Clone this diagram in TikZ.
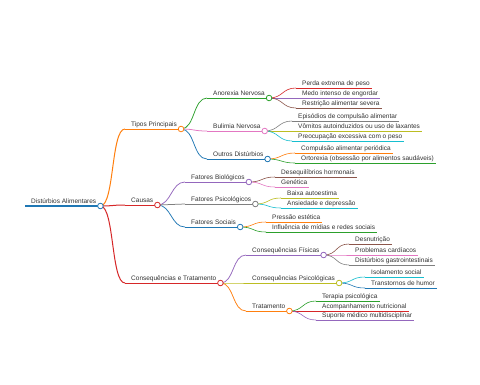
\documentclass[tikz,border=0pt]{standalone}
\usepackage{fontspec}
\setmainfont{Liberation Sans}
\usetikzlibrary{calc}
\definecolor{cBlue}{HTML}{1F77B4}
\definecolor{cOrange}{HTML}{FF7F0E}
\definecolor{cGreen}{HTML}{2CA02C}
\definecolor{cRed}{HTML}{D62728}
\definecolor{cPurple}{HTML}{9467BD}
\definecolor{cBrown}{HTML}{8C564B}
\definecolor{cPink}{HTML}{E377C2}
\definecolor{cGray}{HTML}{7F7F7F}
\definecolor{cOlive}{HTML}{BCBD22}
\definecolor{cCyan}{HTML}{17BECF}
\definecolor{txtgray}{HTML}{333333}
\tikzset{
  lbl/.style={inner sep=0pt, text=txtgray, font=\fontsize{6.5}{7.8}\selectfont},
  dotstyle/.style={fill=white, line width=0.8pt}
}
% name, x, y, color, line width, text
\newcommand\mmnode[6]{%
  \coordinate (#1s) at (#2,#3);
  \node[lbl, anchor=base west] (#1) at (#2+6,#3-2.5) {#6};
  \path (#1s -| #1.base east) ++(4,0) coordinate (#1e);
  \draw[draw=#4, line width=#5] (#1s) -- (#1e);
}
\newcommand\mmleaf[5]{%
  \coordinate (#1s) at (#2,#3);
  \node[lbl, anchor=base west] (#1) at (#2+6,#3-2.5) {#5};
  \path (#1s -| #1.base east) ++(2,0) coordinate (#1e);
  \draw[draw=#4, line width=0.6pt] (#1s) -- (#1e);
}
% parent, child, color, width
\newcommand\mmlink[4]{%
  \draw[draw=#3, line width=#4] (#1e) .. controls +(14,0) and +(-14,0) .. (#2s);
}
\newcommand\mmdot[2]{%
  \draw[draw=#2, dotstyle] (#1e) circle (2.8pt);
}
\begin{document}
\begin{tikzpicture}[x=1pt, y=-1pt]
\useasboundingbox (0,0) rectangle (480,384);
\fill[white] (0,0) rectangle (480,384);
% main nodes
\mmnode{R}{25}{206}{cBlue}{1.6pt}{Distúrbios Alimentares}
\mmnode{T}{125}{129}{cOrange}{1pt}{Tipos Principais}
\mmnode{C}{125}{205}{cRed}{1pt}{Causas}
\mmnode{Q}{125}{283}{cRed}{1pt}{Consequências e Tratamento}
\mmnode{TA}{207}{98}{cGreen}{0.75pt}{Anorexia Nervosa}
\mmnode{TB}{207}{131}{cPink}{0.75pt}{Bulimia Nervosa}
\mmnode{TO}{207}{159}{cBlue}{0.75pt}{Outros Distúrbios}
\mmnode{CB}{185}{182}{cPurple}{0.75pt}{Fatores Biológicos}
\mmnode{CP}{185}{204}{cGray}{0.75pt}{Fatores Psicológicos}
\mmnode{CS}{185}{227}{cBlue}{0.75pt}{Fatores Sociais}
\mmnode{QF}{246}{255}{cPurple}{0.75pt}{Consequências Físicas}
\mmnode{QP}{246}{283}{cOlive}{0.75pt}{Consequências Psicológicas}
\mmnode{QT}{246}{311}{cOrange}{0.75pt}{Tratamento}
% leaves
\mmleaf{TA1}{296}{88}{cRed}{Perda extrema de peso}
\mmleaf{TA2}{296}{98}{cPurple}{Medo intenso de engordar}
\mmleaf{TA3}{296}{108}{cBrown}{Restrição alimentar severa}
\mmleaf{TB1}{292}{121}{cGray}{Episódios de compulsão alimentar}
\mmleaf{TB2}{292}{131}{cOlive}{Vômitos autoinduzidos ou uso de laxantes}
\mmleaf{TB3}{292}{141}{cCyan}{Preocupação excessiva com o peso}
\mmleaf{TO1}{295}{153}{cOrange}{Compulsão alimentar periódica}
\mmleaf{TO2}{295}{163}{cGreen}{Ortorexia (obsessão por alimentos saudáveis)}
\mmleaf{CB1}{275}{177}{cBrown}{Desequilíbrios hormonais}
\mmleaf{CB2}{275}{187}{cPink}{Genética}
\mmleaf{CP1}{281}{198}{cOlive}{Baixa autoestima}
\mmleaf{CP2}{281}{208}{cCyan}{Ansiedade e depressão}
\mmleaf{CS1}{266}{222}{cOrange}{Pressão estética}
\mmleaf{CS2}{266}{232}{cGreen}{Influência de mídias e redes sociais}
\mmleaf{QF1}{349}{244}{cBrown}{Desnutrição}
\mmleaf{QF2}{349}{255}{cPink}{Problemas cardíacos}
\mmleaf{QF3}{349}{265}{cGray}{Distúrbios gastrointestinais}
\mmleaf{QP1}{365}{277}{cCyan}{Isolamento social}
\mmleaf{QP2}{365}{288}{cBlue}{Transtornos de humor}
\mmleaf{QT1}{316}{301}{cGreen}{Terapia psicológica}
\mmleaf{QT2}{316}{311}{cRed}{Acompanhamento nutricional}
\mmleaf{QT3}{316}{320}{cPurple}{Suporte médico multidisciplinar}
% links
\mmlink{R}{T}{cOrange}{1pt}
\mmlink{R}{C}{cRed}{1pt}
\mmlink{R}{Q}{cRed}{1pt}
\mmlink{T}{TA}{cGreen}{0.75pt}
\mmlink{T}{TB}{cPink}{0.75pt}
\mmlink{T}{TO}{cBlue}{0.75pt}
\mmlink{C}{CB}{cPurple}{0.75pt}
\mmlink{C}{CP}{cGray}{0.75pt}
\mmlink{C}{CS}{cBlue}{0.75pt}
\mmlink{Q}{QF}{cPurple}{0.75pt}
\mmlink{Q}{QP}{cOlive}{0.75pt}
\mmlink{Q}{QT}{cOrange}{0.75pt}
\mmlink{TA}{TA1}{cRed}{0.6pt}
\mmlink{TA}{TA2}{cPurple}{0.6pt}
\mmlink{TA}{TA3}{cBrown}{0.6pt}
\mmlink{TB}{TB1}{cGray}{0.6pt}
\mmlink{TB}{TB2}{cOlive}{0.6pt}
\mmlink{TB}{TB3}{cCyan}{0.6pt}
\mmlink{TO}{TO1}{cOrange}{0.6pt}
\mmlink{TO}{TO2}{cGreen}{0.6pt}
\mmlink{CB}{CB1}{cBrown}{0.6pt}
\mmlink{CB}{CB2}{cPink}{0.6pt}
\mmlink{CP}{CP1}{cOlive}{0.6pt}
\mmlink{CP}{CP2}{cCyan}{0.6pt}
\mmlink{CS}{CS1}{cOrange}{0.6pt}
\mmlink{CS}{CS2}{cGreen}{0.6pt}
\mmlink{QF}{QF1}{cBrown}{0.6pt}
\mmlink{QF}{QF2}{cPink}{0.6pt}
\mmlink{QF}{QF3}{cGray}{0.6pt}
\mmlink{QP}{QP1}{cCyan}{0.6pt}
\mmlink{QP}{QP2}{cBlue}{0.6pt}
\mmlink{QT}{QT1}{cGreen}{0.6pt}
\mmlink{QT}{QT2}{cRed}{0.6pt}
\mmlink{QT}{QT3}{cPurple}{0.6pt}
% dots
\mmdot{R}{cBlue}
\mmdot{T}{cOrange}
\mmdot{C}{cRed}
\mmdot{Q}{cRed}
\mmdot{TA}{cGreen}
\mmdot{TB}{cPink}
\mmdot{TO}{cBlue}
\mmdot{CB}{cPurple}
\mmdot{CP}{cGray}
\mmdot{CS}{cBlue}
\mmdot{QF}{cPurple}
\mmdot{QP}{cOlive}
\mmdot{QT}{cOrange}
\end{tikzpicture}
\end{document}
